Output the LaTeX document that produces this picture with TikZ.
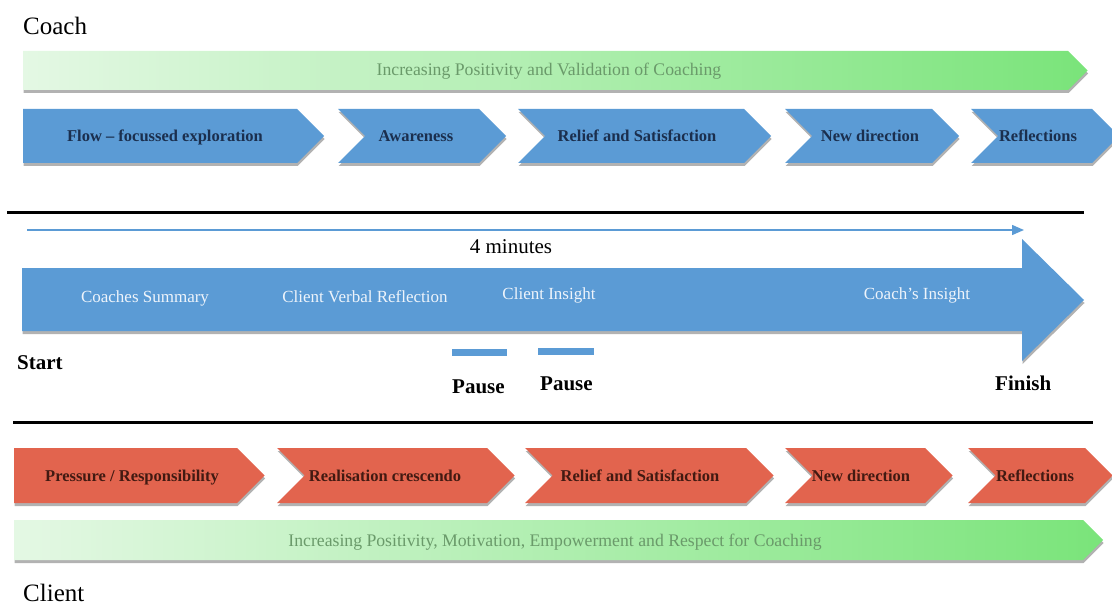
\documentclass[tikz,border=0pt]{standalone}
\usepackage{fontspec}
\setmainfont{Liberation Serif}
\usetikzlibrary{shadows,arrows.meta}
\definecolor{cblue}{HTML}{5B9BD5}
\definecolor{cred}{HTML}{E2644E}
\definecolor{navytxt}{HTML}{1B2F4E}
\definecolor{redtxt}{HTML}{421A12}
\definecolor{gtxt}{HTML}{6A9A6A}
\definecolor{glight}{HTML}{E4F8E4}
\definecolor{gdark}{HTML}{7AE47A}
\definecolor{arrtxt}{HTML}{EEF4FB}
\newcommand\mychev[6]{% style, x1, x2, ytop, ybot, notch depth
  \path[#1] (#2,#4) -- (#3,#4) -- ({#3+(#5-#4)/2},{(#4+#5)/2}) -- (#3,#5) -- (#2,#5) -- ({#2+#6},{(#4+#5)/2}) -- cycle;}
\tikzset{
  shad/.style={drop shadow={shadow xshift=0.5pt,shadow yshift=-3pt,opacity=0.3,fill=black}},
  bluechev/.style={fill=cblue,shad},
  redchev/.style={fill=cred,shad},
  greenbar/.style={left color=glight,right color=gdark,shad},
  bluetext/.style={font=\fontsize{16.5}{18}\selectfont\bfseries,text=navytxt,anchor=base,inner sep=0pt},
  redtext/.style={font=\fontsize{16.5}{18}\selectfont\bfseries,text=redtxt,anchor=base,inner sep=0pt},
  arrowtext/.style={font=\fontsize{17}{19}\selectfont,text=arrtxt,anchor=base,inner sep=0pt},
  greentext/.style={font=\fontsize{17.7}{19}\selectfont,text=gtxt,anchor=base,inner sep=0pt},
  boldlabel/.style={font=\fontsize{21}{23}\selectfont\bfseries,anchor=base west,inner sep=0pt},
  titlelabel/.style={font=\fontsize{25}{27}\selectfont,anchor=base west,inner sep=0pt},
  rule/.style={line width=3pt,black},
  pausebar/.style={fill=cblue},
  timearrow/.style={cblue,line width=1.5pt,-{Triangle[length=12pt,width=10pt]}}
}
\begin{document}
\begin{tikzpicture}[x=1pt,y=-1pt]
\useasboundingbox (0,0) rectangle (1112,607);
% Coach section
\node[titlelabel] (coach) at (23,35) {Coach};
\mychev{greenbar}{23}{1068}{51}{90}{0}
\node[greentext] (gtop) at (549,76) {Increasing Positivity and Validation of Coaching};
\mychev{bluechev}{23}{297}{109}{163}{0}
\mychev{bluechev}{338}{479}{109}{163}{27}
\mychev{bluechev}{518}{744}{109}{163}{27}
\mychev{bluechev}{785}{932}{109}{163}{27}
\mychev{bluechev}{971}{1092}{109}{163}{27}
\node[bluetext] (b1) at (165,142) {Flow -- focussed exploration};
\node[bluetext] (b2) at (416,142) {Awareness};
\node[bluetext] (b3) at (637,142) {Relief and Satisfaction};
\node[bluetext] (b4) at (870,142) {New direction};
\node[bluetext] (b5) at (1038,142) {Reflections};
% middle rule lines
\draw[rule] (7,213) -- (1084,213);
\draw[rule] (13,422) -- (1093,422);
% timeline
\coordinate (tstart) at (27,230);
\coordinate (tend) at (1024,230);
\draw[timearrow] (tstart) -- (tend);
\node[font=\fontsize{21}{23}\selectfont,anchor=base,inner sep=0pt] (mins) at (511,253) {4 minutes};
\path[fill=cblue,shad] (22,268) -- (1022,268) -- (1022,239) -- (1084,300) -- (1022,361) -- (1022,331) -- (22,331) -- cycle;
\node[arrowtext] (a1) at (145,302) {Coaches Summary};
\node[arrowtext] (a2) at (365,302) {Client Verbal Reflection};
\node[arrowtext] (a3) at (549,299) {Client Insight};
\node[arrowtext] (a4) at (917,299) {Coach’s Insight};
\node[boldlabel] (start) at (17,369) {Start};
\path[pausebar] (452,349) rectangle (507,356);
\path[pausebar] (538,348) rectangle (594,355);
\node[boldlabel] (p1) at (452,393) {Pause};
\node[boldlabel] (p2) at (540,390) {Pause};
\node[boldlabel] (fin) at (995,390) {Finish};
% Client section
\mychev{redchev}{14}{237}{448}{503}{0}
\mychev{redchev}{277}{487}{448}{503}{27.5}
\mychev{redchev}{525}{746}{448}{503}{27.5}
\mychev{redchev}{785}{925}{448}{503}{27.5}
\mychev{redchev}{968}{1085}{448}{503}{27.5}
\node[redtext] (r1) at (132,481) {Pressure / Responsibility};
\node[redtext] (r2) at (385,481) {Realisation crescendo};
\node[redtext] (r3) at (640,481) {Relief and Satisfaction};
\node[redtext] (r4) at (861,481) {New direction};
\node[redtext] (r5) at (1035,481) {Reflections};
\mychev{greenbar}{14}{1083}{520}{560}{0}
\node[greentext] (gbot) at (555,546) {Increasing Positivity, Motivation, Empowerment and Respect for Coaching};
\node[titlelabel] (client) at (23,601) {Client};
\end{tikzpicture}
\end{document}
